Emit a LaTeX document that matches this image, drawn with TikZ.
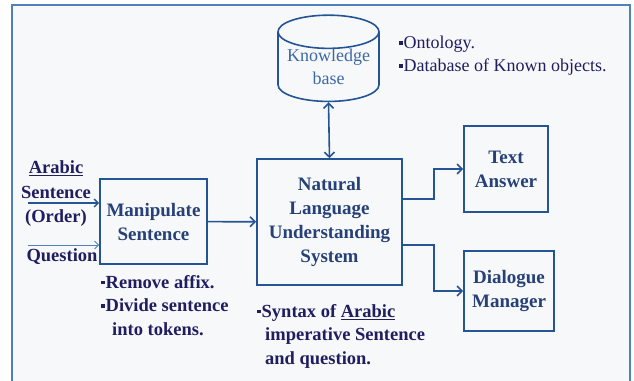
\documentclass[tikz,border=0pt]{standalone}
\usepackage{fontspec}
\setmainfont{Liberation Serif}
\usetikzlibrary{shapes.geometric,arrows.meta,positioning}
\definecolor{frameblue}{RGB}{79,129,189}
\definecolor{lineblue}{RGB}{36,84,148}
\definecolor{boxtext}{RGB}{38,64,120}
\definecolor{notetext}{RGB}{32,30,95}
\definecolor{kbtext}{RGB}{60,105,165}
\definecolor{paper}{RGB}{247,248,250}
\newcommand{\sqbul}{\rule[4pt]{3.5pt}{3.5pt}\hspace{1pt}}
\tikzset{
    block/.style={rectangle, draw=lineblue, line width=1.6pt, align=center, text=boxtext, font=\bfseries\fontsize{19}{24}\selectfont, inner sep=0pt},
    kbase/.style={cylinder, shape border rotate=90, aspect=0.4, draw=lineblue, line width=1.6pt, align=center, text=kbtext, font=\fontsize{18}{23}\selectfont, inner sep=0pt},
    flow/.style={line width=1.6pt, lineblue, -{Straight Barb[length=5pt,width=10pt]}},
    inflow/.style={line width=0.9pt, frameblue, -{Straight Barb[length=4pt,width=8pt]}},
    note/.style={align=left, text=notetext, inner sep=0pt, font=\bfseries\fontsize{18.5}{23.5}\selectfont},
    plainnote/.style={note, font=\fontsize{18}{23}\selectfont},
}
\begin{document}
\begin{tikzpicture}[x=1pt,y=-1pt]
    \useasboundingbox (0,0) rectangle (634,380);
    \fill[white] (0,0) rectangle (634,380);
    \draw[frameblue, line width=2.5pt, fill=paper] (12,5) rectangle (630,400);
    % blocks
    \node[kbase, minimum width=101pt, minimum height=82pt] (kb) at (328.5,67) {Knowledge\\base};
    \node[block, minimum width=107pt, minimum height=85pt] (manip) at (153.5,221.5) {Manipulate\\Sentence};
    \node[block, minimum width=145pt, minimum height=126pt] (nlu) at (329.5,222) {Natural\\Language\\Understanding\\System};
    \node[block, minimum width=84pt, minimum height=86pt] (answer) at (506,169) {Text\\Answer};
    \node[block, minimum width=90pt, minimum height=80pt] (dialog) at (509,291) {Dialogue\\Manager};
    % inputs
    \node[note, align=center, font=\bfseries\fontsize{18.5}{24.5}\selectfont] (sent) at (56,194) {\underline{Arabic}\\Sentence\\(Order)};
    \node[note] (quest) at (62,257) {Question};
    \coordinate (inA) at (28,203);
    \coordinate (inB) at (28,245);
    \draw[inflow, line width=1.4pt, lineblue] (inA) -- (inA -| manip.west);
    \draw[inflow] (inB) -- (inB -| manip.west);
    % connectors
    \draw[flow] (manip) -- (nlu);
    \draw[flow, {Straight Barb[length=5pt,width=10pt]}-{Straight Barb[length=5pt,width=10pt]}] (kb.bottom) -- (nlu.north);
    \draw[flow] ([yshift=23pt]nlu.east) -- ++(31,0) |- (answer.west);
    \draw[flow] ([yshift=-23pt]nlu.east) -- ++(31,0) |- (dialog.west);
    % notes
    \node[plainnote, anchor=north west] (kbnote) at (399,36) {\sqbul Ontology.\\\sqbul Database of Known objects.};
    \node[note, anchor=north west] (manipnote) at (101,275) {\sqbul Remove affix.\\\sqbul Divide sentence\\\hspace{11pt}into tokens.};
    \node[note, anchor=north west] (nlunote) at (257,304) {\sqbul Syntax of \underline{Arabic}\\\hspace{8pt}imperative Sentence\\\hspace{8pt}and question.};
\end{tikzpicture}
\end{document}
